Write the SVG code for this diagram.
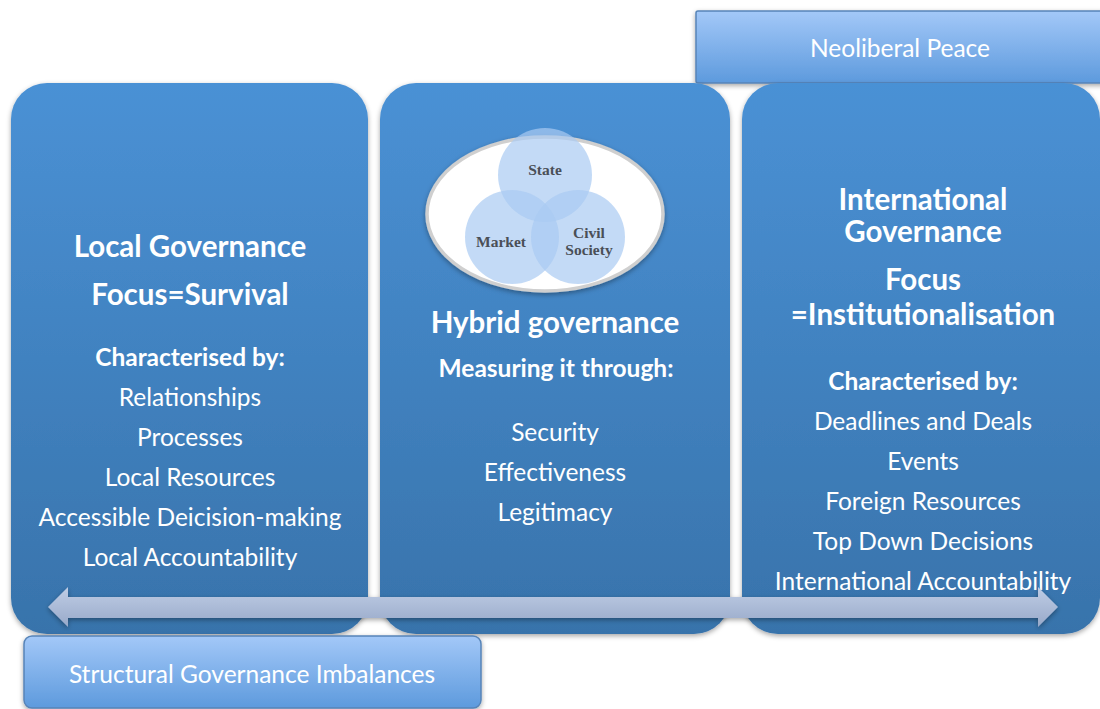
<svg xmlns="http://www.w3.org/2000/svg" width="1100" height="709" viewBox="0 0 1100 709">
<defs>
<linearGradient id="panelG" x1="0" y1="0" x2="0" y2="1">
<stop offset="0" stop-color="#4A91D5"/>
<stop offset="1" stop-color="#3873AB"/>
</linearGradient>
<linearGradient id="boxG" x1="0" y1="0" x2="0" y2="1">
<stop offset="0" stop-color="#A3C8F8"/>
<stop offset="1" stop-color="#5D9ADD"/>
</linearGradient>
<linearGradient id="arrowG" x1="0" y1="0" x2="0" y2="1">
<stop offset="0" stop-color="#BFCDE5"/>
<stop offset="1" stop-color="#98A9C9"/>
</linearGradient>
<filter id="sh" x="-10%" y="-10%" width="120%" height="120%">
<feDropShadow dx="0" dy="2" stdDeviation="2.5" flood-color="#000" flood-opacity="0.35"/>
</filter>
<filter id="blur" x="-5%" y="-5%" width="110%" height="110%">
<feGaussianBlur stdDeviation="0.6"/>
</filter>
<style>
.panel{fill:url(#panelG);filter:url(#sh);}
.box{fill:url(#boxG);stroke:#5784B8;stroke-width:1.5;filter:url(#sh);}
.t{font-family:Lato,"Open Sans",sans-serif;fill:#fff;text-anchor:middle;}
.b{font-weight:bold;}
.h1{font-size:29.5px;}
.h2{font-size:24.5px;}
.it{font-size:24.5px;}
.v{font-family:"Liberation Serif","DejaVu Serif",serif;font-size:15.5px;font-weight:bold;fill:#4a4f57;text-anchor:middle;}
.vc{fill:#A9CAF2;fill-opacity:0.7;}
</style>
</defs>
<rect width="1100" height="709" fill="#fff"/>

<g id="neoliberal">
<rect class="box" x="696" y="11" width="412" height="72" rx="2"/>
<text class="t h2" x="900" y="57">Neoliberal Peace</text>
</g>

<g id="local">
<rect class="panel" x="11" y="83" width="357" height="551" rx="36"/>
<text class="t b h1" x="190" y="257">Local Governance</text>
<text class="t b h1" x="190" y="305">Focus=Survival</text>
<text class="t b h2" x="190" y="366">Characterised by:</text>
<text class="t it" x="190" y="406">Relationships</text>
<text class="t it" x="190" y="446">Processes</text>
<text class="t it" x="190" y="486">Local Resources</text>
<text class="t it" x="190" y="526">Accessible Deicision-making</text>
<text class="t it" x="190" y="566">Local Accountability</text>
</g>

<g id="hybrid">
<rect class="panel" x="380" y="83" width="350" height="551" rx="36"/>
<g id="venn">
<ellipse cx="545" cy="214" rx="118" ry="77" fill="#fff" stroke="#cfcfcf" stroke-width="3.5" filter="url(#sh)"/>
<g filter="url(#blur)">
<circle class="vc" cx="545" cy="175" r="47"/>
<circle class="vc" cx="512" cy="237" r="47"/>
<circle class="vc" cx="578" cy="237" r="47"/>
</g>
<text class="v" x="545" y="175">State</text>
<text class="v" x="501" y="247">Market</text>
<text class="v" x="589" y="238">Civil</text>
<text class="v" x="589" y="255">Society</text>
</g>
<text class="t b" font-size="29.5" x="555" y="333">Hybrid governance</text>
<text class="t b h2" x="556" y="377">Measuring it through:</text>
<text class="t it" x="555" y="441">Security</text>
<text class="t it" x="555" y="481">Effectiveness</text>
<text class="t it" x="555" y="521">Legitimacy</text>
</g>

<g id="international">
<rect class="panel" x="742" y="83" width="358" height="551" rx="36"/>
<text class="t b h1" x="923" y="210">International</text>
<text class="t b h1" x="923" y="242">Governance</text>
<text class="t b h1" x="923" y="290">Focus</text>
<text class="t b h1" x="923" y="325">=Institutionalisation</text>
<text class="t b h2" x="923" y="390">Characterised by:</text>
<text class="t it" x="923" y="430">Deadlines and Deals</text>
<text class="t it" x="923" y="470">Events</text>
<text class="t it" x="923" y="510">Foreign Resources</text>
<text class="t it" x="923" y="550">Top Down Decisions</text>
<text class="t it" x="923" y="590">International Accountability</text>
</g>

<g id="connectors">
<path d="M48,607 L68,587 L68,597 L1038,597 L1038,587 L1058,607 L1038,627 L1038,618 L68,618 L68,627 Z" fill="url(#arrowG)" filter="url(#sh)"/>
</g>

<g id="structural">
<rect class="box" x="24" y="636" width="457" height="72" rx="8"/>
<text class="t h2" x="252" y="683">Structural Governance Imbalances</text>
</g>
</svg>
